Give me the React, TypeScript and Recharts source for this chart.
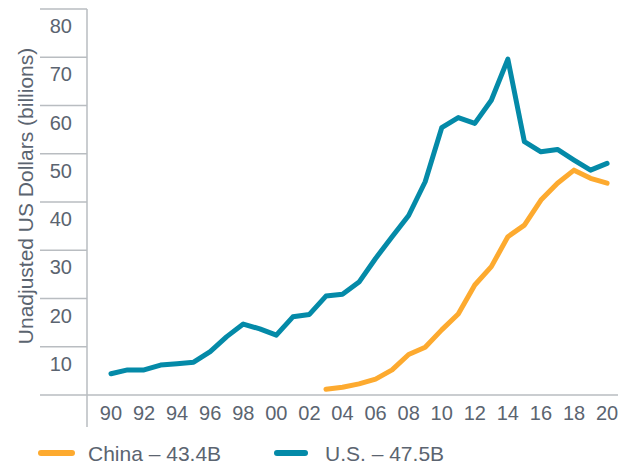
import React from 'react';
import { LineChart, Line, XAxis, YAxis, Legend } from 'recharts';

const years = [1990, 1991, 1992, 1993, 1994, 1995, 1996, 1997, 1998, 1999, 2000, 2001, 2002, 2003, 2004, 2005, 2006, 2007, 2008, 2009, 2010, 2011, 2012, 2013, 2014, 2015, 2016, 2017, 2018, 2019, 2020];
const usValues = [4.4, 5.2, 5.2, 6.2, 6.5, 6.8, 9.0, 12.1, 14.7, 13.7, 12.4, 16.2, 16.7, 20.5, 20.9, 23.4, 28.3, 32.8, 37.2, 44.2, 55.4, 57.5, 56.3, 61.1, 69.6, 52.5, 50.4, 50.9, 48.7, 46.6, 48.0];
const chinaValues: (number | null)[] = [null, null, null, null, null, null, null, null, null, null, null, null, null, 1.2, 1.6, 2.3, 3.3, 5.2, 8.4, 9.9, 13.5, 16.8, 22.8, 26.6, 32.8, 35.2, 40.4, 43.9, 46.6, 44.9, 43.9];
const xTicks = [1990, 1992, 1994, 1996, 1998, 2000, 2002, 2004, 2006, 2008, 2010, 2012, 2014, 2016, 2018, 2020];
const yTicks = [0, 10, 20, 30, 40, 50, 60, 70, 80];
const seriesNames = { china: 'China – 43.4B', us: 'U.S. – 47.5B' };
const yTitle = 'Unadjusted US Dollars (billions)';

const X_MIN = 1988.55;
const X_MAX = 2020.66;

const data = years.map((y, i) => ({ year: y, us: usValues[i], china: chinaValues[i] }));

const TEXT = '#5b6470';
const AXIS = '#b9bdc1';
const ORANGE = '#FDAA2F';
const TEAL = '#048AA8';
const FONT = '"Liberation Sans", Arial, sans-serif';

const XTick = (props: any) => {
  const { x, y, payload } = props;
  if (payload.value === X_MIN) {
    return <line x1={x} y1={y} x2={x} y2={y + 32} stroke={AXIS} strokeWidth={1.5} />;
  }
  const label = String(payload.value).slice(2);
  return (
    <text x={x} y={y + 18} textAnchor="middle" dominantBaseline="central" fill={TEXT} fontSize={20} fontFamily={FONT}>
      {label}
    </text>
  );
};

const YTick = (props: any) => {
  const { x, y, payload } = props;
  if (payload.value === 0) return <g />;
  return (
    <text x={x + 32} y={y + 17} textAnchor="end" dominantBaseline="central" fill={TEXT} fontSize={20} fontFamily={FONT}>
      {payload.value}
    </text>
  );
};

const YTitle = (props: any) => {
  const vb = props.viewBox || { x: 0, y: 9, width: 87, height: 386 };
  const cx = 25;
  const cy = vb.y + vb.height / 2 - 6;
  return (
    <text x={cx} y={cy} transform={`rotate(-90 ${cx} ${cy})`} textAnchor="middle" dominantBaseline="central" fill={TEXT} fontSize={21} fontFamily={FONT}>
      {yTitle}
    </text>
  );
};

const LegendContent = () => (
  <svg width={618} height={30} style={{ display: 'block' }}>
    <line x1={41} y1={15} x2={72} y2={15} stroke={ORANGE} strokeWidth={6} strokeLinecap="round" />
    <text x={88} y={15} dominantBaseline="central" fill={TEXT} fontSize={21} fontFamily={FONT}>{seriesNames.china}</text>
    <line x1={277} y1={15} x2={305} y2={15} stroke={TEAL} strokeWidth={6} strokeLinecap="round" />
    <text x={325} y={15} dominantBaseline="central" fill={TEXT} fontSize={21} fontFamily={FONT}>{seriesNames.us}</text>
  </svg>
);

export default function App() {
  return (
    <div style={{ position: 'absolute', left: 0, top: 0, width: 618, height: 464, background: '#fff' }}>
      <LineChart width={618} height={464} data={data} margin={{ top: 9, right: 0, bottom: 7, left: 0 }}>
        <XAxis
          dataKey="year"
          type="number"
          domain={[X_MIN, X_MAX]}
          ticks={[X_MIN, ...xTicks]}
          interval={0}
          tick={<XTick />}
          tickLine={false}
          tickSize={0}
          tickMargin={0}
          height={32}
          axisLine={{ stroke: AXIS, strokeWidth: 1.5 }}
          allowDataOverflow
        />
        <YAxis
          type="number"
          domain={[0, 80]}
          ticks={yTicks}
          interval={0}
          width={87}
          tickSize={47}
          tickMargin={0}
          tick={<YTick />}
          tickLine={{ stroke: AXIS, strokeWidth: 1.5 }}
          axisLine={{ stroke: AXIS, strokeWidth: 1.5 }}
          label={<YTitle />}
        />
        <Legend verticalAlign="bottom" height={30} content={<LegendContent />} wrapperStyle={{ left: 0, bottom: -4, width: 618 }} />
        <Line dataKey="china" stroke={ORANGE} strokeWidth={5} dot={false} isAnimationActive={false} strokeLinejoin="round" strokeLinecap="round" connectNulls={false} />
        <Line dataKey="us" stroke={TEAL} strokeWidth={5} dot={false} isAnimationActive={false} strokeLinejoin="round" strokeLinecap="round" />
      </LineChart>
    </div>
  );
}
